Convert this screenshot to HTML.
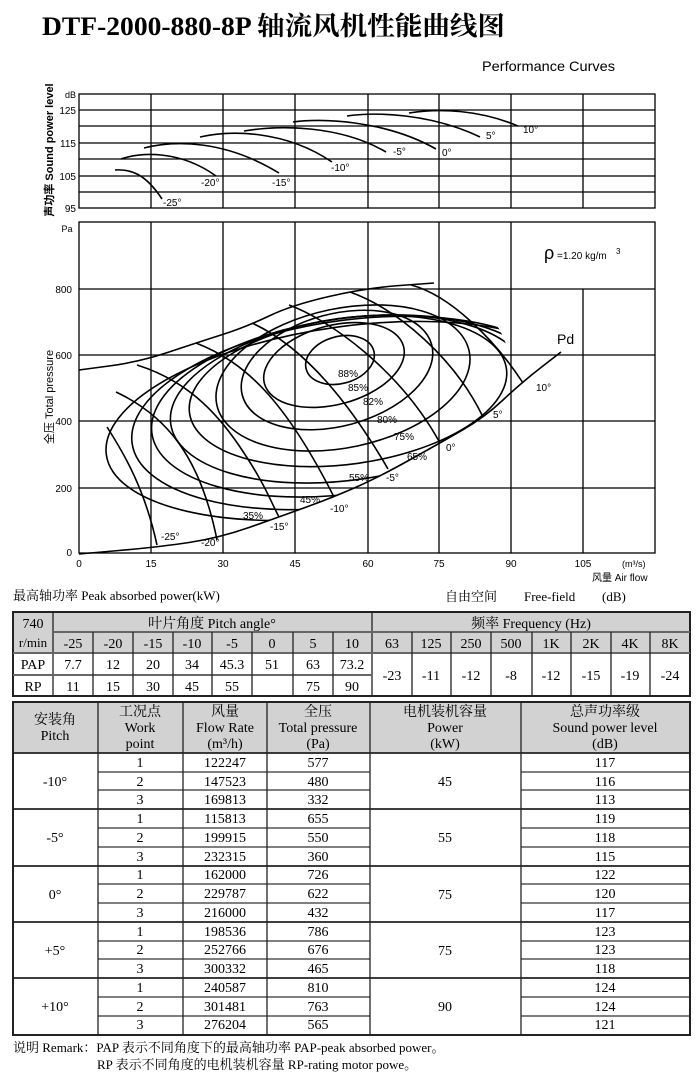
<!DOCTYPE html>
<html><head><meta charset="utf-8"><style>
html,body{margin:0;padding:0;background:#fff;}
svg{display:block;}
.s{font-family:"Liberation Sans","Noto Sans CJK SC",sans-serif;}
.r{font-family:"Liberation Serif","Noto Serif CJK SC",serif;}
</style></head><body>
<svg width="700" height="1076" viewBox="0 0 700 1076" xmlns="http://www.w3.org/2000/svg">
<text x="42" y="35" class="r" font-size="26" font-weight="bold" textLength="463" lengthAdjust="spacingAndGlyphs">DTF-2000-880-8P 轴流风机性能曲线图</text>
<text x="482" y="71" class="s" font-size="14" textLength="133" lengthAdjust="spacingAndGlyphs">Performance Curves</text>

<!-- top chart -->
<g stroke="#000" stroke-width="1.3" fill="none">
<rect x="79" y="94" width="576" height="114"/>
<path d="M79,110H655M79,126H655M79,143H655M79,159H655M79,176H655M79,192H655"/>
<path d="M151,94V208M223,94V208M295,94V208M368,94V208M439,94V208M511,94V208M583,94V208"/>
</g>
<g stroke="#000" stroke-width="1.6" fill="none">
<path d="M115,170 C130,169 145,173 162,199"/>
<path d="M121,159 C140,152 180,150 216,176"/>
<path d="M144,148 C175,140 225,140 279,173"/>
<path d="M200,137 C230,130 285,130 332,162"/>
<path d="M244,131 C280,125 340,125 386,152"/>
<path d="M293,122 C320,118 385,120 436,149"/>
<path d="M347,116 C375,112 430,113 480,137"/>
<path d="M409,113 C440,108 480,110 518,126"/>
</g>
<g class="s" font-size="10">
<text x="163" y="206">-25°</text><text x="201" y="186">-20°</text><text x="272" y="186">-15°</text>
<text x="331" y="171">-10°</text><text x="393" y="155">-5°</text><text x="442" y="156">0°</text>
<text x="486" y="139">5°</text><text x="523" y="133">10°</text>
<text x="76" y="98" text-anchor="end" font-size="9">dB</text>
<text x="76" y="114" text-anchor="end">125</text><text x="76" y="147" text-anchor="end">115</text>
<text x="76" y="180" text-anchor="end">105</text><text x="76" y="212" text-anchor="end">95</text>
<text transform="translate(53,150) rotate(-90)" text-anchor="middle" font-size="11" font-weight="bold">声功率 Sound power level</text>
</g>

<!-- main chart -->
<defs><clipPath id="cp"><path d="M79,370 L109,366 Q139,362 167.5,352.5 Q196,343 221,335 Q246,327 269,316 Q292,305 329,296.5 Q366,288 400,285.5 L434,283 L470,292 L500,330 L523,383 L485,417 L440,443 L379,477 L334,497 L279,517 L219,538 L159,547 L79,554 Z"/></clipPath></defs>
<g stroke="#000" stroke-width="1.3" fill="none">
<rect x="79" y="222" width="576" height="331"/>
<path d="M79,289H655M79,355H655M79,421H655M79,488H655"/>
<path d="M151,222V553M223,222V553M295,222V553M368,222V553M439,222V553M511,222V553M583,289V553"/>
</g>
<g stroke="#000" stroke-width="1.6" fill="none">
<path d="M79,370 L109,366 Q139,362 167.5,352.5 Q196,343 221,335 Q246,327 269,316 Q292,305 329,296.5 Q366,288 400,285.5 L434,283"/>
<path d="M79,554 L119,550.5 Q159,547 189,542.5 Q219,538 249,527.5 Q279,517 306.5,507 Q334,497 356.5,487 Q379,477 409.5,460 Q440,443 462.5,430 Q485,417 503,400 Q521,383 541,367.5 L561,352"/>
<path d="M107,427 C125,455 145,490 157,545"/>
<path d="M116,392 C165,415 200,455 217,540"/>
<path d="M137,365 C185,380 215,410 240,447 S270,500 279,517"/>
<path d="M196,343 C245,362 285,400 334,497"/>
<path d="M252,323 C300,345 345,395 388,469"/>
<path d="M289,305 C330,320 400,370 440,443"/>
<path d="M350,292 C400,310 455,360 482,415"/>
<path d="M411,285 C450,295 495,340 523,383"/>
<g clip-path="url(#cp)">
<ellipse cx="340" cy="360" rx="35" ry="23.5" transform="rotate(-15 340 360)"/>
<ellipse cx="334" cy="365" rx="72" ry="39.5" transform="rotate(-15 334 365)"/>
<ellipse cx="337" cy="370" rx="98" ry="56" transform="rotate(-15 337 370)"/>
<ellipse cx="343" cy="378" rx="129" ry="69.5" transform="rotate(-12 343 378)"/>
<ellipse cx="348" cy="391" rx="160" ry="73" transform="rotate(-8 348 391)"/>
<ellipse cx="349" cy="399" rx="180" ry="81" transform="rotate(-8 349 399)"/>
<ellipse cx="348" cy="406" rx="198" ry="87.6" transform="rotate(-8 348 406)"/>
<ellipse cx="349" cy="413" rx="219" ry="92.7" transform="rotate(-8 349 413)"/>
<ellipse cx="348" cy="421" rx="244" ry="94.5" transform="rotate(-8 348 421)"/>
</g>
</g>
<g class="s" font-size="10">
<text x="338" y="377">88%</text><text x="348" y="391">85%</text><text x="363" y="405">82%</text>
<text x="377" y="423">80%</text><text x="394" y="440">75%</text><text x="407" y="460">65%</text>
<text x="349" y="481">55%</text><text x="300" y="503">45%</text><text x="243" y="519">35%</text>
<text x="161" y="540">-25°</text><text x="201" y="546">-20°</text><text x="270" y="530">-15°</text>
<text x="330" y="512">-10°</text><text x="386" y="481">-5°</text><text x="446" y="451">0°</text>
<text x="493" y="418">5°</text><text x="536" y="391">10°</text>
<text x="557" y="344" font-size="14">Pd</text>
<text x="544" y="259" font-size="18">ρ</text><text x="557" y="259" font-size="10">=1.20 kg/m</text><text x="616" y="254" font-size="8">3</text>
<text x="67" y="232" text-anchor="middle" font-size="9">Pa</text>
<text x="72" y="293" text-anchor="end">800</text><text x="72" y="359" text-anchor="end">600</text>
<text x="72" y="425" text-anchor="end">400</text><text x="72" y="492" text-anchor="end">200</text>
<text x="72" y="556" text-anchor="end">0</text>
<text x="79" y="567" text-anchor="middle">0</text><text x="151" y="567" text-anchor="middle">15</text>
<text x="223" y="567" text-anchor="middle">30</text><text x="295" y="567" text-anchor="middle">45</text>
<text x="368" y="567" text-anchor="middle">60</text><text x="439" y="567" text-anchor="middle">75</text>
<text x="511" y="567" text-anchor="middle">90</text><text x="583" y="567" text-anchor="middle">105</text>
<text x="622" y="567" font-size="9">(m³/s)</text>
<text x="592" y="581" font-size="10">风量 Air flow</text>
<text transform="translate(53,397) rotate(-90)" text-anchor="middle" font-size="11">全压 Total pressure</text>
</g>

<!-- upper table -->
<g class="r" font-size="13">
<text x="13" y="600">最高轴功率 Peak absorbed power(kW)</text>
<text x="445" y="601">自由空间</text><text x="524" y="601">Free-field</text><text x="602" y="601">(dB)</text>
</g>
<rect x="13" y="612" width="677" height="41" fill="#d2d2d2"/>
<g stroke="#222" stroke-width="1.3" fill="none">
<rect x="13" y="612" width="677" height="84" stroke-width="2"/>
<path d="M53,612V696M372,612V696"/>
<path d="M53,632H690M13,653H690M13,675H372" stroke="#666" stroke-width="2"/>
<path d="M93,632V696M133,632V696M173,632V696M212,632V696M252,632V696M293,632V696M333,632V696"/>
<path d="M412,632V696M451,632V696M491,632V696M532,632V696M571,632V696M611,632V696M650,632V696"/>
</g>
<g class="r" font-size="14" text-anchor="middle">
<text x="33" y="628">740</text><text x="33" y="647" font-size="13">r/min</text>
<text x="212" y="628">叶片角度 Pitch angle°</text>
<text x="531" y="628">频率 Frequency      (Hz)</text>
<text x="73" y="648">-25</text><text x="113" y="648">-20</text><text x="153" y="648">-15</text><text x="192" y="648">-10</text>
<text x="232" y="648">-5</text><text x="272" y="648">0</text><text x="313" y="648">5</text><text x="352" y="648">10</text>
<text x="392" y="648">63</text><text x="431" y="648">125</text><text x="471" y="648">250</text><text x="511" y="648">500</text>
<text x="551" y="648">1K</text><text x="591" y="648">2K</text><text x="630" y="648">4K</text><text x="670" y="648">8K</text>
<text x="33" y="669">PAP</text><text x="73" y="669">7.7</text><text x="113" y="669">12</text><text x="153" y="669">20</text>
<text x="192" y="669">34</text><text x="232" y="669">45.3</text><text x="272" y="669">51</text><text x="313" y="669">63</text><text x="352" y="669">73.2</text>
<text x="33" y="691">RP</text><text x="73" y="691">11</text><text x="113" y="691">15</text><text x="153" y="691">30</text>
<text x="192" y="691">45</text><text x="232" y="691">55</text><text x="313" y="691">75</text><text x="352" y="691">90</text>
<text x="392" y="680">-23</text><text x="431" y="680">-11</text><text x="471" y="680">-12</text><text x="511" y="680">-8</text>
<text x="551" y="680">-12</text><text x="591" y="680">-15</text><text x="630" y="680">-19</text><text x="670" y="680">-24</text>
</g>

<!-- lower table -->
<rect x="13" y="702" width="677" height="51" fill="#d2d2d2"/>
<g stroke="#222" stroke-width="1.3" fill="none">
<path d="M98,772H370M98,790H370M98,828H370M98,847H370M98,884H370M98,903H370M98,941H370M98,959H370M98,997H370M98,1016H370" stroke="#555" stroke-width="1.6"/>
<path d="M521,772H690M521,790H690M521,828H690M521,847H690M521,884H690M521,903H690M521,941H690M521,959H690M521,997H690M521,1016H690" stroke="#555" stroke-width="1.6"/>
<path d="M13,753H690M13,809H690M13,866H690M13,922H690M13,978H690" stroke-width="1.8"/>
<rect x="13" y="702" width="677" height="333" stroke-width="2"/>
<path d="M98,702V1035M183,702V1035M267,702V1035M370,702V1035M521,702V1035"/>
</g>
<g class="r" font-size="14" text-anchor="middle">
<text x="55" y="724">安装角</text><text x="55" y="740">Pitch</text>
<text x="140" y="716">工况点</text><text x="140" y="732">Work</text><text x="140" y="748">point</text>
<text x="225" y="716">风量</text><text x="225" y="732">Flow Rate</text><text x="225" y="748">(m³/h)</text>
<text x="318" y="716">全压</text><text x="318" y="732">Total pressure</text><text x="318" y="748">(Pa)</text>
<text x="445" y="716">电机装机容量</text><text x="445" y="732">Power</text><text x="445" y="748">(kW)</text>
<text x="605" y="716">总声功率级</text><text x="605" y="732">Sound power level</text><text x="605" y="748">(dB)</text>

<text x="55" y="786">-10°</text><text x="55" y="842">-5°</text><text x="55" y="899">0°</text><text x="55" y="955">+5°</text><text x="55" y="1011">+10°</text>
<text x="445" y="786">45</text><text x="445" y="842">55</text><text x="445" y="899">75</text><text x="445" y="955">75</text><text x="445" y="1011">90</text>

<text x="140" y="767">1</text><text x="225" y="767">122247</text><text x="318" y="767">577</text><text x="605" y="767">117</text>
<text x="140" y="786">2</text><text x="225" y="786">147523</text><text x="318" y="786">480</text><text x="605" y="786">116</text>
<text x="140" y="804">3</text><text x="225" y="804">169813</text><text x="318" y="804">332</text><text x="605" y="804">113</text>
<text x="140" y="823">1</text><text x="225" y="823">115813</text><text x="318" y="823">655</text><text x="605" y="823">119</text>
<text x="140" y="842">2</text><text x="225" y="842">199915</text><text x="318" y="842">550</text><text x="605" y="842">118</text>
<text x="140" y="861">3</text><text x="225" y="861">232315</text><text x="318" y="861">360</text><text x="605" y="861">115</text>
<text x="140" y="879">1</text><text x="225" y="879">162000</text><text x="318" y="879">726</text><text x="605" y="879">122</text>
<text x="140" y="898">2</text><text x="225" y="898">229787</text><text x="318" y="898">622</text><text x="605" y="898">120</text>
<text x="140" y="917">3</text><text x="225" y="917">216000</text><text x="318" y="917">432</text><text x="605" y="917">117</text>
<text x="140" y="936">1</text><text x="225" y="936">198536</text><text x="318" y="936">786</text><text x="605" y="936">123</text>
<text x="140" y="954">2</text><text x="225" y="954">252766</text><text x="318" y="954">676</text><text x="605" y="954">123</text>
<text x="140" y="973">3</text><text x="225" y="973">300332</text><text x="318" y="973">465</text><text x="605" y="973">118</text>
<text x="140" y="992">1</text><text x="225" y="992">240587</text><text x="318" y="992">810</text><text x="605" y="992">124</text>
<text x="140" y="1011">2</text><text x="225" y="1011">301481</text><text x="318" y="1011">763</text><text x="605" y="1011">124</text>
<text x="140" y="1029">3</text><text x="225" y="1029">276204</text><text x="318" y="1029">565</text><text x="605" y="1029">121</text>
</g>
<g class="r" font-size="13">
<text x="13" y="1052">说明 Remark：PAP 表示不同角度下的最高轴功率 PAP-peak absorbed power。</text>
<text x="97" y="1069">RP 表示不同角度的电机装机容量 RP-rating motor powe。</text>
</g>
</svg>
</body></html>
